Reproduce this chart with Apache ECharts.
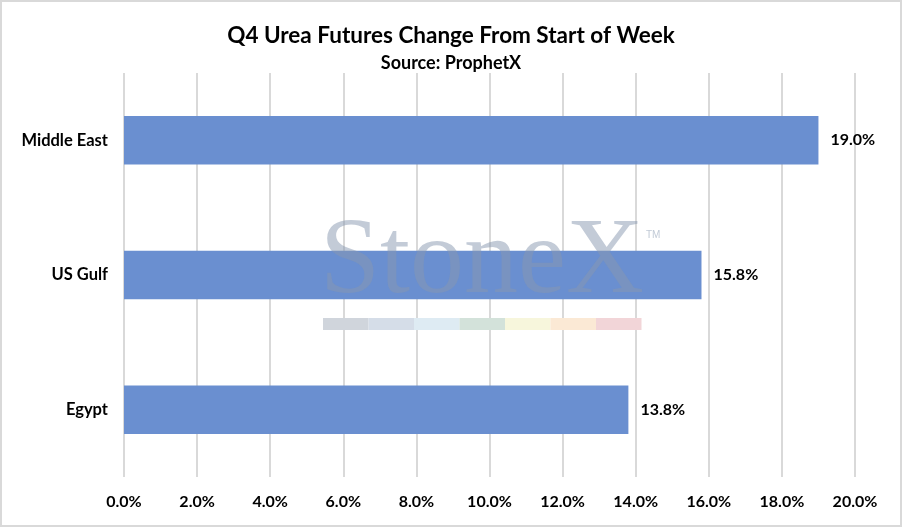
<!DOCTYPE html>
<html>
<head>
<meta charset="utf-8">
<script src="https://cdn.jsdelivr.net/npm/echarts@6/dist/echarts.min.js"></script>
<style>
  html, body { margin: 0; padding: 0; background: #fff; }
  #chart { width: 902px; height: 527px; box-sizing: border-box; border: 2px solid #d9d9d9; }
</style>
</head>
<body>
<div id="chart"></div>
<script>
// data
const regions = ["Egypt", "US Gulf", "Middle East"];
const changes = [13.8, 15.8, 19.0];
const stripColors = ["#d0d5dc", "#d5dde8", "#deebf3", "#d3e2da", "#f7f6dc", "#fbe9d5", "#f2d5d8"];

const FONT = "Lato, 'Open Sans', sans-serif";

const chart = echarts.init(document.getElementById("chart"));

// watermark strip pieces
const strip = stripColors.map((c, i) => ({
  type: "rect",
  shape: { x: 321 + i * 45.5, y: 316, width: 45.5, height: 12 },
  style: { fill: c },
  z: 100
}));

chart.setOption({
  animation: false,
  title: {
    text: "Q4 Urea Futures Change From Start of Week",
    subtext: "Source: ProphetX",
    left: "center",
    top: 17,
    itemGap: 7,
    textStyle: { fontFamily: FONT, fontSize: 22.5, fontWeight: "bold", color: "#000" },
    subtextStyle: { fontFamily: FONT, fontSize: 18, fontWeight: "bold", color: "#000" }
  },
  grid: { left: 122, right: 45, top: 71, bottom: 48 },
  xAxis: {
    type: "value",
    min: 0,
    max: 20,
    interval: 2,
    axisLine: { show: false },
    axisTick: { show: false },
    splitLine: { lineStyle: { color: "#d9d9d9", width: 2 } },
    axisLabel: {
      formatter: v => v.toFixed(1) + "%",
      fontFamily: FONT, fontSize: 16, fontWeight: "bold", color: "#000", margin: 17
    }
  },
  yAxis: {
    type: "category",
    data: regions,
    axisLine: { show: false },
    axisTick: { show: false },
    axisLabel: { fontFamily: FONT, fontSize: 16.5, fontWeight: "bold", color: "#000", margin: 16 }
  },
  series: [{
    type: "bar",
    data: changes,
    barWidth: "36%",
    itemStyle: { color: "#6a8fd0" },
    label: {
      show: true,
      position: "right",
      distance: 12,
      formatter: p => p.value.toFixed(1) + "%",
      fontFamily: FONT, fontSize: 16, fontWeight: "bold", color: "#000"
    }
  }],
  graphic: [
    {
      type: "text",
      left: 318,
      top: 208,
      z: 100,
      style: {
        text: "StoneX",
        font: "108px 'Liberation Serif', 'DejaVu Serif', serif",
        fill: "rgba(135,152,176,0.5)"
      }
    },
    {
      type: "text",
      left: 644,
      top: 228,
      z: 100,
      style: { text: "TM", font: "10px sans-serif", fill: "rgba(150,165,185,0.6)" }
    }
  ].concat(strip)
});
</script>
</body>
</html>
